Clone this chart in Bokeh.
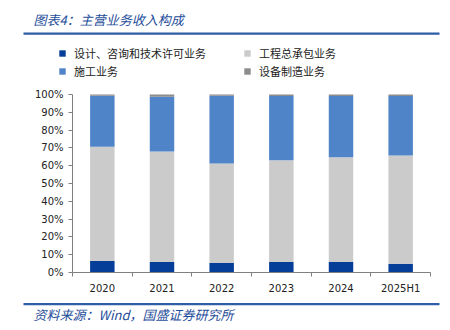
from bokeh.plotting import figure
from bokeh.models import (ColumnDataSource, FixedTicker, Range1d, Legend, LegendItem,
                          Label, BoxAnnotation, PrintfTickFormatter)
from bokeh.embed import file_html
from bokeh.resources import INLINE

categories = ["2020", "2021", "2022", "2023", "2024", "2025H1"]
design = [6.4, 5.9, 5.3, 5.9, 5.9, 4.9]
epc = [64.2, 62.1, 55.9, 57.2, 58.9, 60.9]
construction = [28.7, 30.7, 38.1, 36.0, 34.3, 33.3]
equipment = [0.7, 1.3, 0.7, 0.9, 0.9, 0.9]
series_names = ["设计、咨询和技术许可业务", "工程总承包业务", "施工业务", "设备制造业务"]
colors = ["#053E99", "#CBCBCB", "#4F84C8", "#8C8C8C"]
y_ticks = list(range(0, 101, 10))
title_text = "图表4：主营业务收入构成"
source_text = "资料来源：Wind，国盛证券研究所"

# ---- layout constants (pixels) ----
W, H = 450, 330
PLOT_L, PLOT_R, PLOT_T, PLOT_B = 72, 430, 94, 272
BLUE_TXT = "#1F4E9A"
RULE = "#2F5DA6"
CJK = "Noto Sans CJK SC"

n = len(categories)
ux = (PLOT_R - PLOT_L) / n          # px per category
uy = (PLOT_B - PLOT_T) / 100.0      # px per percent

p = figure(width=W, height=H, output_backend="svg", toolbar_location=None,
           title_location=None,
           x_range=Range1d(-PLOT_L / ux, (W - PLOT_L) / ux),
           y_range=Range1d(-(H - PLOT_B) / uy, 100 + PLOT_T / uy),
           min_border=0, min_border_left=0, min_border_right=0,
           min_border_top=0, min_border_bottom=0)
p.outline_line_color = None
p.xgrid.grid_line_color = None
p.ygrid.grid_line_color = None

centers = [i + 0.5 for i in range(n)]
bounds = [float(i) for i in range(n + 1)]
src = ColumnDataSource(dict(x=centers, design=design, epc=epc,
                            construction=construction, equipment=equipment))
renderers = p.vbar_stack(["design", "epc", "construction", "equipment"], x="x",
                         width=0.41, source=src, color=colors, line_color=None)

# ---- axes fixed at the plot corner ----
yax = p.yaxis[0]
yax.fixed_location = 0
yax.bounds = (0, 100)
yax.ticker = FixedTicker(ticks=y_ticks)
yax.formatter = PrintfTickFormatter(format="%d%%")
yax.axis_line_color = "#808080"
yax.major_tick_line_color = "#808080"
yax.major_tick_in = 0
yax.major_tick_out = 4
yax.minor_tick_line_color = None
yax.major_label_standoff = 5
yax.major_label_text_font = "DejaVu Sans"
yax.major_label_text_font_size = "10px"
yax.major_label_text_color = "#222222"

xax = p.xaxis[0]
xax.fixed_location = 0
xax.bounds = (0, n)
xax.ticker = FixedTicker(ticks=centers, minor_ticks=bounds)
xax.major_label_overrides = {c: lab for c, lab in zip(centers, categories)}
xax.axis_line_color = "#808080"
xax.major_tick_line_color = None
xax.minor_tick_line_color = "#808080"
xax.minor_tick_in = 0
xax.minor_tick_out = 4
xax.major_label_standoff = 4
xax.major_label_text_font = "DejaVu Sans"
xax.major_label_text_font_size = "10px"
xax.major_label_text_color = "#222222"

# ---- legend ----
items = [LegendItem(label=series_names[i], renderers=[renderers[i]]) for i in range(4)]
legend = Legend(items=items, ncols=2, orientation="horizontal", location=(58, H - 79),
                padding=0, margin=0, spacing=2, label_width=167, label_height=14,
                glyph_width=8, glyph_height=8, label_standoff=8,
                border_line_color=None, background_fill_alpha=0,
                label_text_font=CJK, label_text_font_size="11px",
                label_text_color="#222222")
p.add_layout(legend, "center")

# ---- title, rules, source (screen units: y measured up from bottom) ----
p.add_layout(Label(x=33, y=H - 19, x_units="screen", y_units="screen", text=title_text,
                   text_font=CJK, text_font_size="13px", text_font_style="italic",
                   text_color=BLUE_TXT, text_baseline="middle"))
for top_px in (32.0, 302.5):
    p.add_layout(BoxAnnotation(left=23, right=439, top=H - top_px, bottom=H - top_px - 2.2,
                               left_units="screen", right_units="screen",
                               top_units="screen", bottom_units="screen",
                               fill_color=RULE, fill_alpha=1, line_color=None,
                               editable=False))
p.add_layout(Label(x=33, y=H - 313.5, x_units="screen", y_units="screen", text=source_text,
                   text_font=CJK, text_font_size="13px", text_font_style="italic",
                   text_color=BLUE_TXT, text_baseline="middle"))

open("out.html", "w").write(file_html(p, INLINE))
